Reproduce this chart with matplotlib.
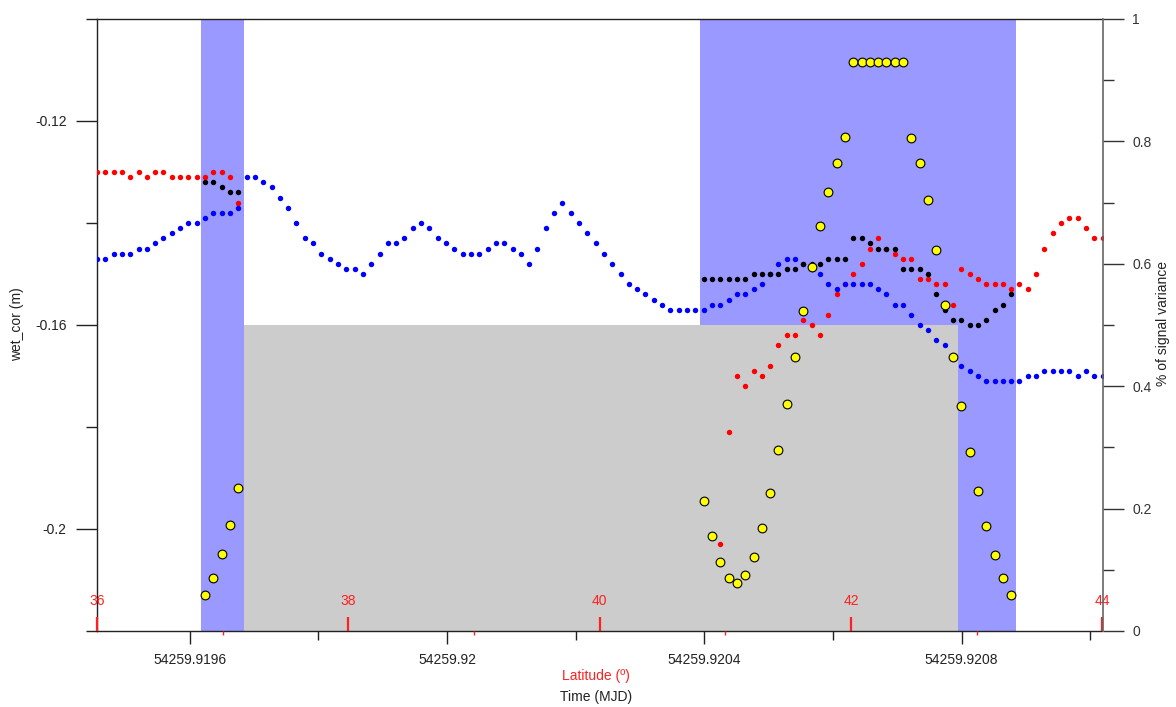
import matplotlib
matplotlib.use('Agg')
import matplotlib.pyplot as plt
import numpy as np
from matplotlib.ticker import FixedLocator, FixedFormatter

plt.rcParams['font.family'] = ['Liberation Sans', 'DejaVu Sans']
plt.rcParams['font.size'] = 10
plt.rcParams['axes.unicode_minus'] = False

# ---------------- data ----------------
# sampling of the along-track record (MJD)
t_first = 54259.919456
t_step = 1.2918e-5
n_samples = 122

time_lim = [54259.919456, 54259.921019]
lat_lim = [36, 44]

# wet_cor (m), blue series, all samples
blue_wet = [-0.147, -0.147, -0.146, -0.146, -0.146, -0.145, -0.145, -0.144, -0.143, -0.142,
            -0.141, -0.140, -0.140, -0.139, -0.138, -0.138, -0.138, -0.137, -0.131, -0.131,
            -0.132, -0.133, -0.135, -0.137, -0.140, -0.143, -0.144, -0.146, -0.147, -0.148,
            -0.149, -0.149, -0.150, -0.148, -0.146, -0.144, -0.144, -0.143, -0.141, -0.140,
            -0.141, -0.143, -0.144, -0.145, -0.146, -0.146, -0.146, -0.145, -0.144, -0.144,
            -0.145, -0.146, -0.148, -0.145, -0.141, -0.138, -0.136, -0.138, -0.140, -0.142,
            -0.144, -0.146, -0.148, -0.150, -0.152, -0.153, -0.154, -0.155, -0.156, -0.157,
            -0.157, -0.157, -0.157, -0.157, -0.156, -0.156, -0.155, -0.154, -0.154, -0.153,
            -0.152, -0.150, -0.148, -0.147, -0.147, -0.148, -0.149, -0.150, -0.152, -0.153,
            -0.152, -0.152, -0.152, -0.152, -0.153, -0.154, -0.156, -0.156, -0.158, -0.160,
            -0.161, -0.163, -0.164, -0.166, -0.168, -0.169, -0.170, -0.171, -0.171, -0.171,
            -0.171, -0.171, -0.170, -0.170, -0.169, -0.169, -0.169, -0.169, -0.170, -0.169,
            -0.170, -0.170]

# red series (two segments)
red_left_start = 0
red_left = [-0.130, -0.130, -0.130, -0.130, -0.131, -0.130, -0.131, -0.130, -0.130, -0.131,
            -0.131, -0.131, -0.131, -0.131, -0.130, -0.130, -0.131, -0.136]
red_right_start = 75
red_right = [-0.203, -0.181, -0.170, -0.172, -0.169, -0.170, -0.168, -0.164, -0.162, -0.162,
             -0.159, -0.160, -0.162, -0.158, -0.154, -0.152, -0.150, -0.148, -0.145, -0.143,
             -0.145, -0.146, -0.147, -0.147, -0.151, -0.151, -0.152, -0.152, -0.156, -0.149,
             -0.150, -0.151, -0.152, -0.152, -0.152, -0.153, -0.152, -0.153, -0.150, -0.145,
             -0.142, -0.140, -0.139, -0.139, -0.141, -0.143, -0.143]

# black series (inside the highlighted bands)
black_left_start = 13
black_left = [-0.132, -0.132, -0.133, -0.134, -0.134]
black_right_start = 73
black_right = [-0.151, -0.151, -0.151, -0.151, -0.151, -0.151, -0.150, -0.150, -0.150, -0.150,
               -0.149, -0.149, -0.148, -0.148, -0.148, -0.147, -0.147, -0.147, -0.143, -0.143,
               -0.144, -0.145, -0.145, -0.145, -0.149, -0.149, -0.149, -0.150, -0.154, -0.157,
               -0.159, -0.159, -0.160, -0.160, -0.159, -0.157, -0.156, -0.154]

# % of signal variance (yellow, right axis)
var_left_start = 13
var_left = [0.059, 0.087, 0.126, 0.174, 0.233]
var_right_start = 73
var_right = [0.212, 0.156, 0.112, 0.086, 0.079, 0.091, 0.121, 0.168, 0.226, 0.296,
             0.371, 0.448, 0.523, 0.595, 0.661, 0.718, 0.765, 0.807, 0.930, 0.930,
             0.930, 0.930, 0.930, 0.930, 0.929, 0.806, 0.765, 0.704, 0.622, 0.533,
             0.447, 0.367, 0.292, 0.228, 0.171, 0.124, 0.086, 0.059]

# shaded regions (MJD)
band_starts = [54259.9196182, 54259.9203932]
band_ends = [54259.9196846, 54259.9208852]
gray_start = 54259.9196846
gray_end = 54259.9207950
gray_top_frac = 0.5

# ticks
time_major = [54259.9196, 54259.9200, 54259.9204, 54259.9208]
time_major_labels = ['54259.9196', '54259.92', '54259.9204', '54259.9208']
time_minor = [54259.9198, 54259.9202, 54259.9206, 54259.9210]
wet_major = [-0.20, -0.16, -0.12]
wet_major_labels = ['-0.2', '-0.16', '-0.12']
wet_minor = [-0.22, -0.18, -0.14, -0.10]
var_major = [0, 0.2, 0.4, 0.6, 0.8, 1.0]
var_major_labels = ['0', '0.2', '0.4', '0.6', '0.8', '1']
var_minor = [0.1, 0.3, 0.5, 0.7, 0.9]
lat_major = [36, 38, 40, 42, 44]
lat_major_labels = ['36', '38', '40', '42', '44']
lat_minor = [37, 39, 41, 43]

# ---------------- figure ----------------
W, H = 1176, 707
fig = plt.figure(figsize=(W / 100, H / 100), dpi=100)
ax = fig.add_axes([97 / W, (H - 631) / H, 1005.5 / W, 612 / H])
ax.set_xlim(time_lim)
ax.set_ylim(-0.22, -0.10)

band_color = '#9999FF'
for b0, b1 in zip(band_starts, band_ends):
    ax.axvspan(b0, b1, color=band_color, lw=0, zorder=1)
ax.axvspan(gray_start, gray_end, ymin=0, ymax=gray_top_frac, color='#CCCCCC', lw=0, zorder=1.5)

t = t_first + t_step * np.arange(n_samples)


def seg(start, vals):
    return t[start:start + len(vals)], np.array(vals)


dot = dict(linestyle='none', marker='o', ms=3.9, mew=0)
for s, v in [(red_left_start, red_left), (red_right_start, red_right)]:
    x, y = seg(s, v)
    ax.plot(x, y, color='#FF0000', zorder=3, **dot)
ax.plot(t, blue_wet, color='#0000FF', zorder=3.2, **dot)
for s, v in [(black_left_start, black_left), (black_right_start, black_right)]:
    x, y = seg(s, v)
    ax.plot(x, y, color='black', zorder=3.4, **dot)

# left axis ticks
ax.yaxis.set_major_locator(FixedLocator(wet_major))
ax.yaxis.set_major_formatter(FixedFormatter(wet_major_labels))
ax.yaxis.set_minor_locator(FixedLocator(wet_minor))
ax.tick_params(axis='y', which='major', length=14.9, width=1, pad=6.9, colors='#222222')
ax.tick_params(axis='y', which='minor', length=7.7, width=1, color='#222222')

# time axis ticks
ax.xaxis.set_major_locator(FixedLocator(time_major))
ax.xaxis.set_major_formatter(FixedFormatter(time_major_labels))
ax.xaxis.set_minor_locator(FixedLocator(time_minor))
ax.tick_params(axis='x', which='major', length=9, width=1, pad=6.5, colors='#222222')
ax.tick_params(axis='x', which='minor', length=6.3, width=1, color='#222222')

ax.spines['right'].set_visible(False)
for sp in ['left', 'top', 'bottom']:
    ax.spines[sp].set_color('#222222')
    ax.spines[sp].set_linewidth(1)

# latitude axis (secondary, on the bottom, ticks and labels inside)
def t2lat(x):
    return lat_lim[0] + (np.asarray(x) - time_lim[0]) * (lat_lim[1] - lat_lim[0]) / (time_lim[1] - time_lim[0])


def lat2t(l):
    return time_lim[0] + (np.asarray(l) - lat_lim[0]) * (time_lim[1] - time_lim[0]) / (lat_lim[1] - lat_lim[0])


sec = ax.secondary_xaxis('bottom', functions=(t2lat, lat2t))
sec.set_zorder(10)
sec.xaxis.set_major_locator(FixedLocator(lat_major))
sec.xaxis.set_major_formatter(FixedFormatter(lat_major_labels))
sec.xaxis.set_minor_locator(FixedLocator(lat_minor))
sec.tick_params(which='major', direction='in', length=10, width=1.6, colors='#FF2020', pad=-26.5)
sec.tick_params(which='minor', direction='out', length=3, width=1, color='#FF2020')
sec.spines['bottom'].set_visible(False)

# right axis: % of signal variance
axr = ax.twinx()
axr.set_ylim(0, 1)
for s, v in [(var_left_start, var_left), (var_right_start, var_right)]:
    x, y = seg(s, v)
    axr.plot(x, y, linestyle='none', marker='o', ms=6.3, mfc='#FFFF00', mec='black', mew=0.8, zorder=5)
axr.yaxis.set_major_locator(FixedLocator(var_major))
axr.yaxis.set_major_formatter(FixedFormatter(var_major_labels))
axr.yaxis.set_minor_locator(FixedLocator(var_minor))
axr.tick_params(axis='y', which='major', length=15, width=1, pad=6.5, colors='#333333')
axr.tick_params(axis='y', which='minor', length=8, width=1, color='#333333')
for sp in ['left', 'top', 'bottom']:
    axr.spines[sp].set_visible(False)
axr.spines['right'].set_color('#666666')
axr.spines['right'].set_linewidth(1.2)
axr.set_xlim(time_lim)

# axis titles
fig.text(17 / W, 1 - 324 / H, 'wet_cor (m)', rotation=90, ha='center', va='center', color='#222222')
fig.text(1163 / W, 1 - 323 / H, '% of signal variance', rotation=90, ha='center', va='center', color='#222222')
fig.text(596 / W, 1 - 676 / H, 'Latitude (º)', ha='center', va='center', color='#FF2020')
fig.text(596 / W, 1 - 697 / H, 'Time (MJD)', ha='center', va='center', color='#222222')

fig.savefig('out.png', dpi=100)
